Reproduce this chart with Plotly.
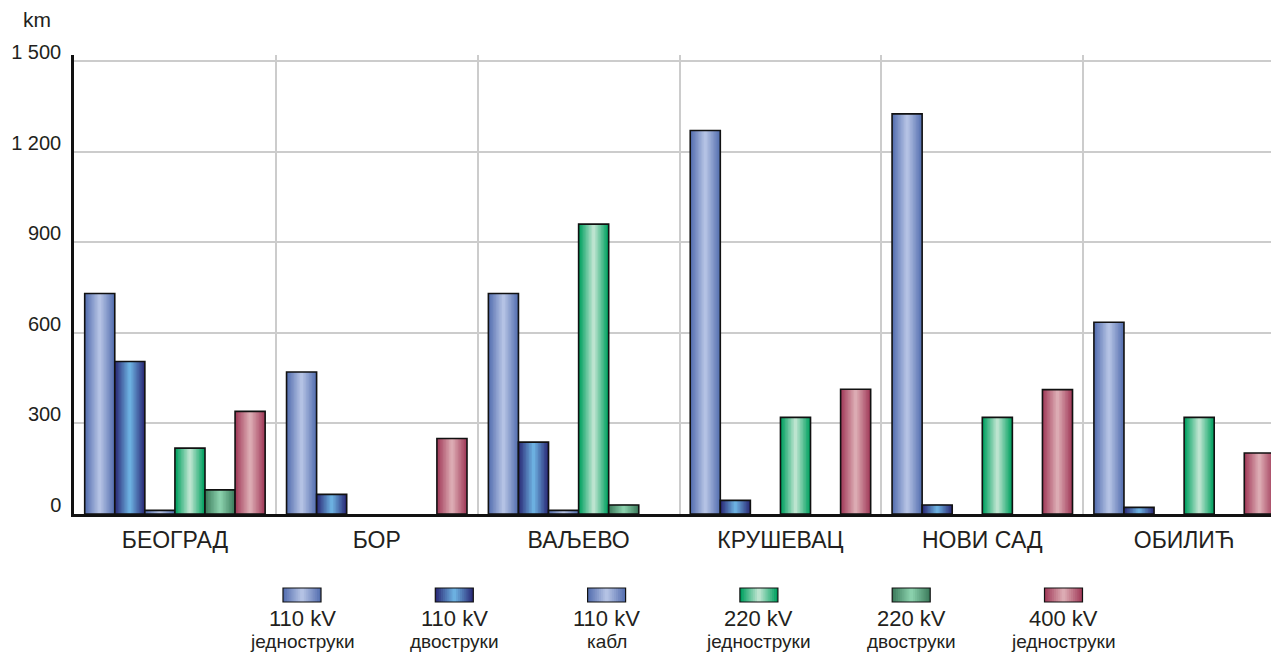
import plotly.graph_objects as go

# ---------------- data ----------------
categories = ["БЕОГРАД", "БОР", "ВАЉЕВО", "КРУШЕВАЦ", "НОВИ САД", "ОБИЛИЋ"]
series_line1 = ["110 kV", "110 kV", "110 kV", "220 kV", "220 kV", "400 kV"]
series_line2 = ["једноструки", "двоструки", "кабл", "једноструки", "двоструки", "једноструки"]
v110_single = [730, 470, 730, 1270, 1325, 635]
v110_double = [505, 65, 238, 45, 30, 22]
v110_cable = [12, 0, 12, 0, 0, 0]
v220_single = [218, 0, 960, 320, 320, 320]
v220_double = [80, 0, 30, 0, 0, 0]
v400_single = [340, 250, 0, 413, 412, 202]
ytick_vals = [0, 300, 600, 900, 1200, 1500]
ytick_text = ["0", "300", "600", "900", "1 200", "1 500"]
unit_label = "km"

series_values = [v110_single, v110_double, v110_cable, v220_single, v220_double, v400_single]

# ---------------- styles ----------------
colors = [  # (edge, highlight)
    ("#5670b0", "#b4c2e4"),
    ("#2b2c78", "#6cb0e0"),
    ("#5670b0", "#b4c2e4"),
    ("#00a060", "#bce4cf"),
    ("#3d7d5d", "#8ad0ac"),
    ("#a23c5a", "#dcabb3"),
]
TEXT = "#231f20"
GRID = "#cccccc"
FONT = "Liberation Sans, Arial, sans-serif"
PAGE_OFF = 8                       # default body margin of the html page
W, H = 1279 - PAGE_OFF, 655 - PAGE_OFF
# plot area in page pixels: left 74, top 55, bottom 514, right 1279
ML, MR, MT, MB = 74 - PAGE_OFF, 0, 55 - PAGE_OFF, 655 - 514
PW, PH = W - ML - MR, H - MT - MB
BAR_W = 0.149
GROUP_GAP = 1 - 6 * BAR_W
N_LAYERS = 10


def hex2rgb(h):
    h = h.lstrip("#")
    return tuple(int(h[i:i + 2], 16) for i in (0, 2, 4))


def lerp(c1, c2, t):
    a, b = hex2rgb(c1), hex2rgb(c2)
    return "rgb(%d,%d,%d)" % tuple(round(a[i] + (b[i] - a[i]) * t) for i in range(3))


def px_x(p):  # page pixel -> paper
    return (p - PAGE_OFF - ML) / PW


def px_y(p):  # page pixel -> paper
    return (H - MB - (p - PAGE_OFF)) / PH


fig = go.Figure()

for j, vals in enumerate(series_values):
    yv = [v if v else None for v in vals]
    center = -0.5 + GROUP_GAP / 2 + (j + 0.5) * BAR_W
    edge, hi = colors[j]
    for k in range(N_LAYERS):
        w = BAR_W * (1 - k / N_LAYERS)
        fig.add_trace(go.Bar(
            x=categories, y=yv, width=w, offset=center - w / 2,
            marker=dict(color=lerp(edge, hi, k / (N_LAYERS - 1)), line=dict(width=0)),
            hoverinfo="skip", showlegend=False,
        ))
    fig.add_trace(go.Bar(
        x=categories, y=yv, width=BAR_W, offset=center - BAR_W / 2,
        marker=dict(color="rgba(0,0,0,0)", line=dict(color="#111111", width=1.6)),
        name=series_line1[j] + " " + series_line2[j], showlegend=False,
    ))

# ---------------- custom legend (swatch above two-line label) ----------------
shapes = []
annotations = []
LEG_X0, LEG_DX = 302, 152.3
SW_W, SW_TOP, SW_BOT = 38, 588, 602
for j in range(6):
    cx = LEG_X0 + j * LEG_DX
    edge, hi = colors[j]
    for k in range(N_LAYERS):
        half = SW_W / 2 * (1 - k / N_LAYERS)
        shapes.append(dict(type="rect", xref="paper", yref="paper",
                           x0=px_x(cx - half), x1=px_x(cx + half),
                           y0=px_y(SW_BOT), y1=px_y(SW_TOP),
                           fillcolor=lerp(edge, hi, k / (N_LAYERS - 1)), line=dict(width=0)))
    shapes.append(dict(type="rect", xref="paper", yref="paper",
                       x0=px_x(cx - SW_W / 2), x1=px_x(cx + SW_W / 2),
                       y0=px_y(SW_BOT), y1=px_y(SW_TOP),
                       fillcolor="rgba(0,0,0,0)", line=dict(color="#111111", width=1.2)))
    annotations.append(dict(xref="paper", yref="paper", x=px_x(cx), y=px_y(618),
                            text=series_line1[j], showarrow=False, xanchor="center", yanchor="middle",
                            font=dict(size=22, color=TEXT, family=FONT)))
    annotations.append(dict(xref="paper", yref="paper", x=px_x(cx), y=px_y(641),
                            text=series_line2[j], showarrow=False, xanchor="center", yanchor="middle",
                            font=dict(size=19, color=TEXT, family=FONT)))

annotations.append(dict(xref="paper", yref="paper", x=px_x(37), y=px_y(20),
                        text=unit_label, showarrow=False, xanchor="center", yanchor="middle",
                        font=dict(size=21, color=TEXT, family=FONT)))

fig.update_layout(
    width=W, height=H,
    margin=dict(l=ML, r=MR, t=MT, b=MB, pad=0, autoexpand=False),
    plot_bgcolor="white", paper_bgcolor="white",
    barmode="overlay", showlegend=False,
    font=dict(family=FONT, color=TEXT),
    shapes=shapes, annotations=annotations,
    xaxis=dict(
        type="category", categoryorder="array", categoryarray=categories,
        range=[-0.5, 5.47], showgrid=True, gridcolor=GRID, gridwidth=1.5,
        tickson="boundaries", ticks="", showline=True, linecolor="#111111", linewidth=2.5,
        tickfont=dict(size=23, color=TEXT, family=FONT), ticklabelstandoff=4,
        automargin=False,
    ),
    yaxis=dict(
        range=[0, 1520], tickvals=ytick_vals, ticktext=ytick_text,
        showgrid=True, gridcolor=GRID, gridwidth=1.5, zeroline=False,
        showline=True, linecolor="#111111", linewidth=2.5, ticks="",
        tickfont=dict(size=20, color=TEXT, family=FONT), ticklabelstandoff=6,
        ticklabelshift=-9, automargin=False,
    ),
)

fig.write_html("out.html")
